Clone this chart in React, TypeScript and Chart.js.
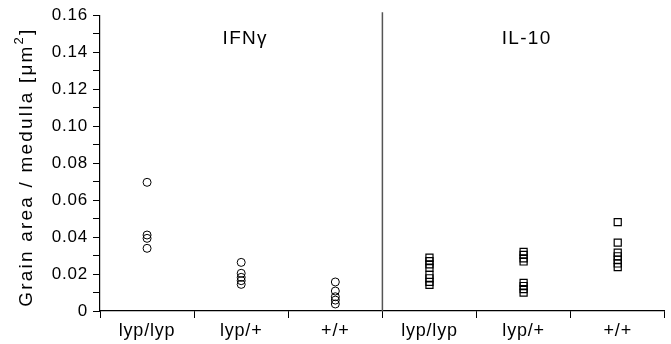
import React, { useEffect, useRef } from "react";
import { Chart, registerables } from "chart.js";

Chart.register(...registerables);

const categoryKeys = ["IFN-lyp/lyp", "IFN-lyp/+", "IFN-+/+", "IL10-lyp/lyp", "IL10-lyp/+", "IL10-+/+"];
const xTickLabels = ["lyp/lyp", "lyp/+", "+/+", "lyp/lyp", "lyp/+", "+/+"];
const yTickLabels = ["0", "0.02", "0.04", "0.06", "0.08", "0.10", "0.12", "0.14", "0.16"];
const panelLabels = ["IFNγ", "IL-10"];
const yTitleMain = "Grain area / medulla [μm";
const yTitleSup = "2";
const yTitleEnd = "]";

const ifnLypLyp = [0.0696, 0.0411, 0.0393, 0.0339];
const ifnLypPlus = [0.0263, 0.0204, 0.0182, 0.0164, 0.0144];
const ifnPlusPlus = [0.0157, 0.0108, 0.0077, 0.0059, 0.0038];

const il10LypLyp = [0.0288, 0.027, 0.0252, 0.0234, 0.0195, 0.0177, 0.0158, 0.0141];
const il10LypPlus = [0.032, 0.0303, 0.0285, 0.0268, 0.0152, 0.0135, 0.0118, 0.01];
const il10PlusPlus = [0.0481, 0.037, 0.0316, 0.0296, 0.0277, 0.0257, 0.0237];

const FONT = "'Liberation Sans', Arial, sans-serif";

const toPoints = (key: string, vals: number[]) => vals.map((v) => ({ x: key, y: v }));

const overlayPlugin = {
  id: "overlay",
  beforeUpdate(chart: any) {
    chart.ctx.letterSpacing = "0.8px";
  },
  beforeDraw(chart: any) {
    chart.ctx.letterSpacing = "0.8px";
  },
  afterDraw(chart: any) {
    const { ctx, chartArea, scales } = chart;
    const xs = scales.x;
    const ys = scales.y;
    ctx.save();
    // separator between panels
    const sepX = (xs.getPixelForValue(2) + xs.getPixelForValue(3)) / 2;
    ctx.strokeStyle = "#555";
    ctx.lineWidth = 1.5;
    ctx.beginPath();
    ctx.moveTo(sepX, chartArea.top - 3);
    ctx.lineTo(sepX, chartArea.bottom);
    ctx.stroke();
    // panel labels
    ctx.fillStyle = "#000";
    ctx.letterSpacing = "1.3px";
    ctx.font = `19px ${FONT}`;
    ctx.textAlign = "center";
    ctx.textBaseline = "middle";
    ctx.fillText(panelLabels[0], xs.getPixelForValue(1) + 4, ys.getPixelForValue(0.1475));
    ctx.fillText(panelLabels[1], xs.getPixelForValue(4) + 3, ys.getPixelForValue(0.1475));
    // y axis title (rotated, with superscript)
    ctx.letterSpacing = "2.2px";
    const mainFont = `19px ${FONT}`;
    const supFont = `13px ${FONT}`;
    ctx.font = mainFont;
    const w1 = ctx.measureText(yTitleMain).width;
    const w3 = ctx.measureText(yTitleEnd).width;
    ctx.font = supFont;
    const w2 = ctx.measureText(yTitleSup).width;
    const total = w1 + w2 + w3;
    const cx = 27;
    const cy = (chartArea.top + chartArea.bottom) / 2 + 4;
    ctx.translate(cx, cy);
    ctx.rotate(-Math.PI / 2);
    ctx.textAlign = "left";
    ctx.textBaseline = "middle";
    let x = -total / 2;
    ctx.font = mainFont;
    ctx.fillText(yTitleMain, x, 0);
    x += w1;
    ctx.font = supFont;
    ctx.fillText(yTitleSup, x, -8);
    x += w2;
    ctx.font = mainFont;
    ctx.fillText(yTitleEnd, x, 0);
    ctx.restore();
  },
};

export default function App() {
  const ref = useRef<HTMLCanvasElement>(null);
  useEffect(() => {
    document.body.style.margin = "0";
    const circle = {
      pointStyle: "circle",
      pointRadius: 4,
      pointBorderWidth: 1,
      pointBorderColor: "#000",
      pointBackgroundColor: "rgba(0,0,0,0)",
      showLine: false,
    };
    const square = {
      pointStyle: "rect",
      pointRadius: 5,
      pointBorderWidth: 1.2,
      pointBorderColor: "#000",
      pointBackgroundColor: "rgba(0,0,0,0)",
      showLine: false,
    };
    const chart = new Chart(ref.current!, {
      type: "line",
      data: {
        labels: categoryKeys,
        datasets: [
          { data: toPoints(categoryKeys[0], ifnLypLyp), ...circle },
          { data: toPoints(categoryKeys[1], ifnLypPlus), ...circle },
          { data: toPoints(categoryKeys[2], ifnPlusPlus), ...circle },
          { data: toPoints(categoryKeys[3], il10LypLyp), ...square },
          { data: toPoints(categoryKeys[4], il10LypPlus), ...square },
          { data: toPoints(categoryKeys[5], il10PlusPlus), ...square },
        ] as any,
      },
      options: {
        animation: false,
        responsive: false,
        layout: { padding: { top: 15, right: 6, bottom: 0, left: 0 } },
        plugins: { legend: { display: false }, tooltip: { enabled: false } },
        scales: {
          x: {
            type: "category",
            offset: true,
            grid: { offset: true, drawOnChartArea: false, tickLength: 7, color: "#000", lineWidth: 1 },
            border: { display: true, color: "#000", width: 1.2 },
            ticks: {
              color: "#000",
              padding: 2,
              maxRotation: 0,
              autoSkip: false,
              font: { family: FONT, size: 18 },
              callback: (_v: any, i: number) => xTickLabels[i],
            },
            afterFit: (s: any) => {
              s.height = 33;
            },
          },
          y: {
            min: 0,
            max: 0.16,
            grid: { drawOnChartArea: false, tickLength: 7, color: "#000", lineWidth: 1 },
            border: { display: true, color: "#000", width: 1.2 },
            ticks: {
              stepSize: 0.01,
              color: "#000",
              padding: 5,
              autoSkip: false,
              font: { family: FONT, size: 17 },
              callback: (_v: any, i: number) => (i % 2 === 0 ? yTickLabels[i / 2] : ""),
            },
            afterFit: (s: any) => {
              s.width = 100;
            },
          },
        },
      },
      plugins: [overlayPlugin],
    } as any);
    return () => chart.destroy();
  }, []);
  return (
    <div style={{ width: 671, height: 344 }}>
      <canvas ref={ref} width={671} height={344} style={{ display: "block" }} />
    </div>
  );
}
